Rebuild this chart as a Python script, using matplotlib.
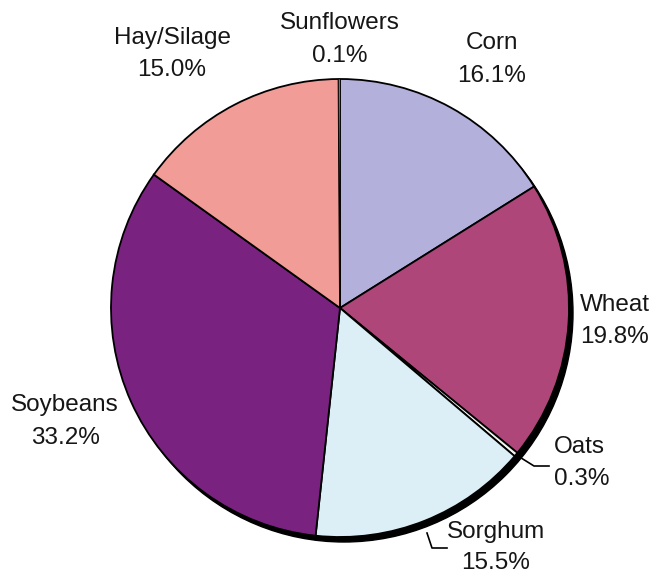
import matplotlib.pyplot as plt
from matplotlib.patches import Circle

plt.rcParams['font.family'] = ['Liberation Sans', 'DejaVu Sans']

crops = ['Corn', 'Wheat', 'Oats', 'Sorghum', 'Soybeans', 'Hay/Silage', 'Sunflowers']
shares = [16.1, 19.8, 0.3, 15.5, 33.2, 15.0, 0.1]
colors = ['#B3B1DC', '#AE4679', '#F4F4F0', '#DCEFF6', '#7A2280', '#F29C97', '#F29C97']

W, H = 656, 580
fig = plt.figure(figsize=(W / 100, H / 100), dpi=100)
ax = fig.add_axes([0, 0, 1, 1])

cx, cy, r = 340, H - 308, 229

# drop shadow behind the pie
ax.add_patch(Circle((cx + 4, cy - 5), r, color='black', zorder=0))

wedges, _ = ax.pie(shares, colors=colors, startangle=90, counterclock=False,
                   center=(cx, cy), radius=r, frame=True,
                   wedgeprops=dict(edgecolor='black', linewidth=1.3))
# the sliver at the top would otherwise look like a heavy double line
wedges[-1].set_linewidth(0.5)
ax.set_xlim(0, W)
ax.set_ylim(0, H)
ax.set_aspect('equal')
ax.axis('off')

# name / percentage positions in pixels from the top-left: (x, y_name, y_pct, ha)
label_pos = {
    'Corn': (492, 43, 76, 'center'),
    'Wheat': (580, 305, 337, 'left'),
    'Oats': (554, 447, 479, 'left'),
    'Sorghum': (496, 532, 563, 'center'),
    'Soybeans': (65, 405, 438, 'center'),
    'Hay/Silage': (172, 38, 70, 'center'),
    'Sunflowers': (340, 23, 56, 'center'),
}

for name, val in zip(crops, shares):
    x, y1, y2, ha = label_pos[name]
    ax.text(x, H - y1, name, ha=ha, va='center', fontsize=17.5, color='#161616')
    ax.text(x, H - y2, f'{val:.1f}%', ha=ha, va='center', fontsize=17.5,
            color='#161616')

# leader lines for the small / bottom slices
ax.plot([518, 534, 549], [H - 456, H - 466, H - 466], color='black', lw=1.2)
ax.plot([427, 432, 447], [H - 533, H - 548, H - 548], color='black', lw=1.2)

fig.savefig('out.png', dpi=100, facecolor='white')
